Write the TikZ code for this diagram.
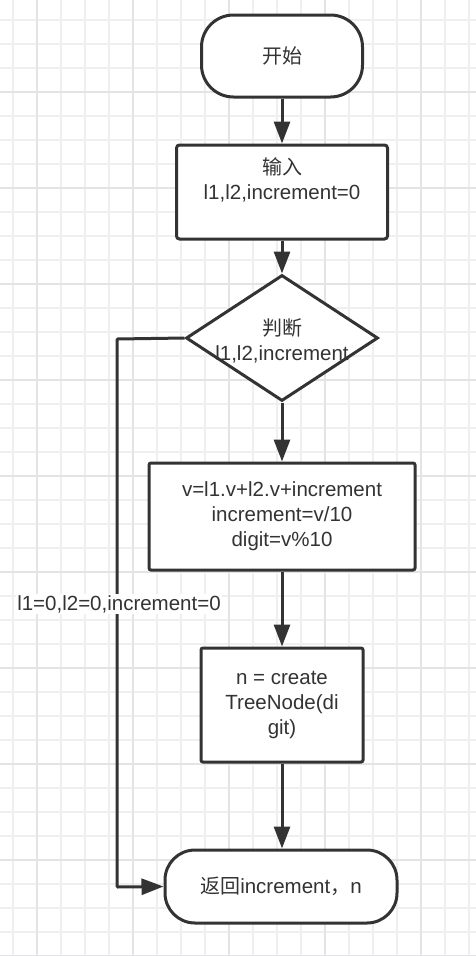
\documentclass[tikz,border=0pt]{standalone}
\usepackage{fontspec}
\setmainfont{Liberation Sans}
\newfontfamily\cjk{Noto Sans CJK SC}
\usetikzlibrary{shapes.geometric,arrows.meta}
\definecolor{ink}{HTML}{333333}
\definecolor{gridfine}{HTML}{EFEFF1}
\definecolor{gridbold}{HTML}{E4E4E7}
\tikzset{
  every node/.style={text=ink, font=\fontsize{20.5}{25}\selectfont},
  shapebox/.style={draw=ink, line width=3pt, fill=white, rectangle, inner sep=0pt, align=center},
  flow/.style={draw=ink, line width=3pt, -{Triangle[length=22pt,width=16pt]}},
}
\newcommand{\zh}[1]{{\cjk\fontsize{20}{25}\selectfont #1}}
\begin{document}
\begin{tikzpicture}[x=1pt,y=-1pt]
\useasboundingbox (0,0) rectangle (476,956);
\fill[white] (0,0) rectangle (476,956);
% grid
\foreach \gx in {12.7,36.7,...,476} \draw[gridfine, line width=1.6pt] (\gx,0) -- (\gx,956);
\foreach \gy in {20,44,...,956} \draw[gridfine, line width=1.6pt] (0,\gy) -- (476,\gy);
\foreach \gx in {36.7,132.7,...,476} \draw[gridbold, line width=2pt] (\gx,0) -- (\gx,956);
\foreach \gy in {92,188,...,956} \draw[gridbold, line width=2pt] (0,\gy) -- (476,\gy);

% nodes
\node[shapebox, rounded corners=32pt, minimum width=161pt, minimum height=82pt] (start) at (282,56) {\zh{开始}};
\node[shapebox, rounded corners=3pt, minimum width=211pt, minimum height=94pt] (input) at (282,192) {};
\node (inputt) at (282,180) [align=center] {\zh{输入}\\l1,l2,increment=0};
\node[draw=ink, line width=3pt, fill=white, diamond, minimum width=192pt, minimum height=126pt, inner sep=0pt] (dec) at (282,338) {};
\node (dect) at (282,341) [align=center] {\zh{判断}\\l1,l2,increment};
\node[shapebox, rounded corners=2pt, minimum width=266pt, minimum height=107pt] (calc) at (282,516.5) {v=l1.v+l2.v+increment\\increment=v/10\\digit=v\%10};
\node[shapebox, rounded corners=2pt, minimum width=162pt, minimum height=114pt] (create) at (282,705) {n = create\\TreeNode(di\\git)};
\node[shapebox, rounded corners=30pt, minimum width=232pt, minimum height=73pt] (ret) at (281,886.5) {\zh{返回}increment\zh{，}n};
\coordinate (c1) at (117,339);
\coordinate (c2) at (117,887);

% connectors
\draw[flow] (start) -- (input);
\draw[flow] (input) -- (dec);
\draw[flow] (dec) -- (calc);
\draw[flow] (calc) -- (create);
\draw[flow] (create) -- (ret.north -| create);
\draw[flow, rounded corners=1pt] (dec.west) -- (c1) -- (c2) -- (ret.west);
\node[fill=white, inner sep=1pt] (lbl) at (119,604) {l1=0,l2=0,increment=0};
\end{tikzpicture}
\end{document}
